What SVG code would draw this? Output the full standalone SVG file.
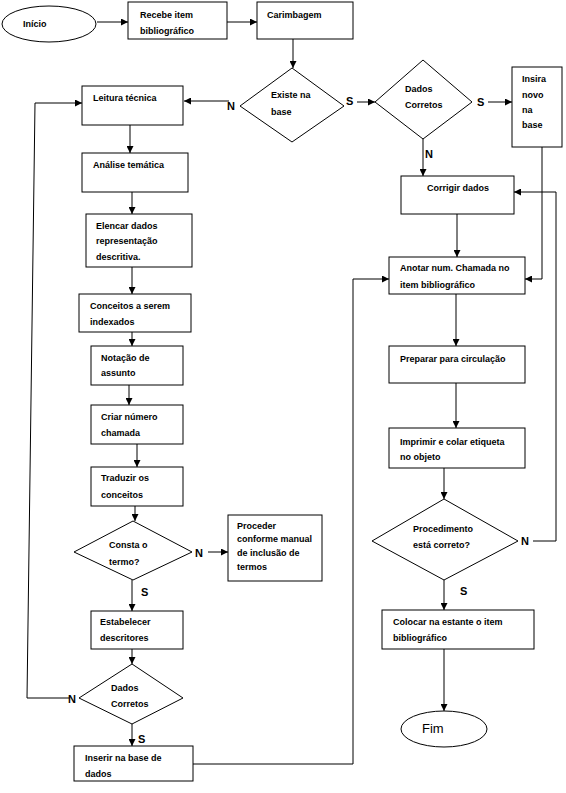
<svg xmlns="http://www.w3.org/2000/svg" width="566" height="793" viewBox="0 0 566 793">
<style>
.n{fill:#fff;stroke:#000;stroke-width:1}
.t{font-family:"Liberation Sans",Arial,sans-serif;font-size:9px;font-weight:bold;fill:#000}
.f{font-family:"Liberation Sans",Arial,sans-serif;font-size:13px;fill:#000}
.l{font-family:"Liberation Sans",Arial,sans-serif;font-size:11px;font-weight:bold;fill:#000}
.c{fill:none;stroke:#000;stroke-width:1;marker-end:url(#a)}
</style>
<defs>
<marker id="a" markerUnits="userSpaceOnUse" markerWidth="7" markerHeight="7" refX="7" refY="3.5" orient="auto">
<path d="M0,0 L7,3.5 L0,7 z" fill="#000"/>
</marker>
</defs>
<rect width="566" height="793" fill="#fff"/>
<g id="connectors">
<path class="c" d="M97,22 H128"/>
<path class="c" d="M227,22 H257"/>
<path class="c" d="M293,39 V68"/>
<path class="c" d="M229,101 H184"/>
<path class="c" d="M357,102 H375"/>
<path class="c" d="M488,102 H512"/>
<path class="c" d="M423,139 V176"/>
<path class="c" d="M542,147 V279 H525"/>
<path class="c" d="M457,214 V257"/>
<path class="c" d="M533,541 H556 V192 H514"/>
<path class="c" d="M456,294 V346"/>
<path class="c" d="M456,383 V428"/>
<path class="c" d="M444,468 V499"/>
<path class="c" d="M444,580 V610"/>
<path class="c" d="M444,649 V711"/>
<path class="c" d="M130,125 V153"/>
<path class="c" d="M132,192 V214"/>
<path class="c" d="M132,267 V294"/>
<path class="c" d="M132,332 V346"/>
<path class="c" d="M129,385 V405"/>
<path class="c" d="M137,444 V467"/>
<path class="c" d="M135,506 V521"/>
<path class="c" d="M208,552 H228"/>
<path class="c" d="M132,580 V611"/>
<path class="c" d="M132,649 V664"/>
<path class="c" d="M69,698 H27 L35,103 H82"/>
<path class="c" d="M132,724 V746"/>
<path class="c" d="M193,764 H353 V279 H389"/>
<text class="l" x="227" y="110">N</text>
<text class="l" x="346" y="105">S</text>
<text class="l" x="477" y="106">S</text>
<text class="l" x="425" y="158">N</text>
<text class="l" x="521" y="545">N</text>
<text class="l" x="460" y="595">S</text>
<text class="l" x="195" y="557">N</text>
<text class="l" x="141" y="596">S</text>
<text class="l" x="68" y="703">N</text>
<text class="l" x="138" y="743">S</text>
</g>
<g id="inicio"><ellipse class="n" cx="49" cy="24" rx="47" ry="18"/><text class="t" x="23" y="27">Início</text></g>
<g id="recebe"><rect class="n" x="128" y="2" width="99" height="37"/><text class="t" x="140" y="18">Recebe item</text><text class="t" x="140" y="34">bibliográfico</text></g>
<g id="carimbagem"><rect class="n" x="257" y="2" width="96" height="37"/><text class="t" x="267" y="18">Carimbagem</text></g>
<g id="existe"><polygon class="n" points="292,68 344,106 292,142 240,106"/><text class="t" x="271" y="98">Existe na</text><text class="t" x="271" y="115">base</text></g>
<g id="dados1"><polygon class="n" points="423,60 472,102 423,139 375,102"/><text class="t" x="405" y="92">Dados</text><text class="t" x="405" y="108">Corretos</text></g>
<g id="insira"><rect class="n" x="512" y="67" width="50" height="80"/><text class="t" x="522" y="82">Insira</text><text class="t" x="522" y="98">novo</text><text class="t" x="522" y="113">na</text><text class="t" x="522" y="128">base</text></g>
<g id="corrigir"><rect class="n" x="401" y="176" width="113" height="38"/><text class="t" x="427" y="191">Corrigir dados</text></g>
<g id="anotar"><rect class="n" x="389" y="257" width="136" height="37"/><text class="t" x="400" y="271">Anotar num. Chamada no</text><text class="t" x="400" y="288">item bibliográfico</text></g>
<g id="preparar"><rect class="n" x="389" y="346" width="136" height="37"/><text class="t" x="400" y="362">Preparar para circulação</text></g>
<g id="imprimir"><rect class="n" x="389" y="428" width="136" height="40"/><text class="t" x="400" y="445">Imprimir e colar etiqueta</text><text class="t" x="400" y="460">no objeto</text></g>
<g id="procedimento"><polygon class="n" points="444,499 518,541 444,580 372,541"/><text class="t" x="413" y="532">Procedimento</text><text class="t" x="413" y="548">está correto?</text></g>
<g id="colocar"><rect class="n" x="382" y="610" width="152" height="39"/><text class="t" x="393" y="625">Colocar na estante o item</text><text class="t" x="393" y="641">bibliográfico</text></g>
<g id="fim"><ellipse class="n" cx="444" cy="729" rx="43" ry="18"/><text class="f" x="422" y="733">Fim</text></g>
<g id="leitura"><rect class="n" x="82" y="86" width="101" height="39"/><text class="t" x="93" y="101">Leitura técnica</text></g>
<g id="analise"><rect class="n" x="82" y="153" width="106" height="39"/><text class="t" x="93" y="168">Análise temática</text></g>
<g id="elencar"><rect class="n" x="86" y="214" width="106" height="53"/><text class="t" x="96" y="229">Elencar dados</text><text class="t" x="96" y="244">representação</text><text class="t" x="96" y="260">descritiva.</text></g>
<g id="conceitos"><rect class="n" x="79" y="294" width="112" height="38"/><text class="t" x="90" y="309">Conceitos a serem</text><text class="t" x="90" y="325">indexados</text></g>
<g id="notacao"><rect class="n" x="91" y="346" width="92" height="39"/><text class="t" x="101" y="361">Notação de</text><text class="t" x="101" y="376">assunto</text></g>
<g id="criar"><rect class="n" x="91" y="405" width="92" height="39"/><text class="t" x="101" y="420">Criar número</text><text class="t" x="101" y="436">chamada</text></g>
<g id="traduzir"><rect class="n" x="91" y="467" width="92" height="39"/><text class="t" x="101" y="481">Traduzir os</text><text class="t" x="101" y="498">conceitos</text></g>
<g id="consta"><polygon class="n" points="133,521 192,552 133,580 74,552"/><text class="t" x="109" y="548">Consta  o</text><text class="t" x="109" y="565">termo?</text></g>
<g id="proceder"><rect class="n" x="228" y="515" width="94" height="66"/><text class="t" x="237" y="529">Proceder</text><text class="t" x="237" y="542">conforme manual</text><text class="t" x="237" y="556">de inclusão de</text><text class="t" x="237" y="570">termos</text></g>
<g id="estabelecer"><rect class="n" x="91" y="611" width="92" height="38"/><text class="t" x="100" y="625">Estabelecer</text><text class="t" x="100" y="641">descritores</text></g>
<g id="dados2"><polygon class="n" points="132,664 183,698 132,724 79,698"/><text class="t" x="111" y="691">Dados</text><text class="t" x="111" y="707">Corretos</text></g>
<g id="inserir"><rect class="n" x="74" y="746" width="119" height="35"/><text class="t" x="85" y="761">Inserir na base de</text><text class="t" x="85" y="777">dados</text></g>
</svg>
